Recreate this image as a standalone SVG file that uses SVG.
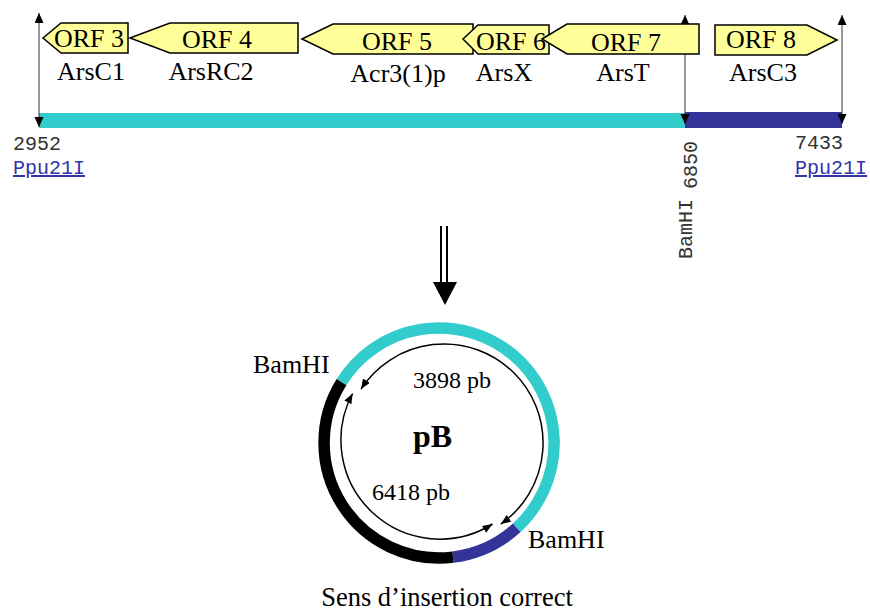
<svg xmlns="http://www.w3.org/2000/svg" width="870" height="612" viewBox="0 0 870 612">
<style>
.orf{fill:#FFFF99;stroke:#000;stroke-width:1.5;stroke-linejoin:miter}
.t{font-family:"Liberation Serif","Times New Roman",serif;fill:#000}
.lbl{font-size:26px;text-anchor:middle}
.m{font-family:"Liberation Mono","Courier New",monospace;font-size:20px;fill:#333}
.lnk{fill:#3333AA;text-decoration:underline}
.vl{stroke:#333;stroke-width:1;marker-start:url(#ah);marker-end:url(#ah)}
.arc{fill:none;stroke:#000;stroke-width:1.5;marker-start:url(#sa);marker-end:url(#sa)}
.ring{fill:none;stroke-width:11.5;stroke-linecap:butt}
</style>
<defs>
<marker id="ah" markerUnits="userSpaceOnUse" markerWidth="11" markerHeight="10" refX="10" refY="4.5" orient="auto-start-reverse" viewBox="0 0 11 10">
<path d="M0,0 L10,4.5 L0,9 Z" fill="#000"/>
</marker>
<marker id="sa" markerUnits="userSpaceOnUse" markerWidth="11" markerHeight="9" refX="10" refY="4" orient="auto-start-reverse" viewBox="0 0 11 9">
<path d="M0,0 L10,4 L0,8 Z" fill="#000"/>
</marker>
</defs>
<rect width="870" height="612" fill="#fff"/>

<g id="map">
<rect x="39" y="113" width="646" height="15" fill="#33CCCC"/>
<rect x="685" y="112" width="157" height="16" fill="#333399"/>
<line class="vl" x1="39" y1="127" x2="39" y2="13"/>
<line class="vl" x1="685" y1="124" x2="685" y2="15"/>
<line class="vl" x1="842" y1="124" x2="842" y2="15"/>
</g>

<g id="orf3"><polygon class="orf" points="43,38 61,23 128,23 128,53 61,53"/><text class="t lbl" x="89" y="47">ORF 3</text><text class="t lbl" x="91" y="80">ArsC1</text></g>
<g id="orf4"><polygon class="orf" points="130,38 170,23 298,23 298,53 170,53"/><text class="t lbl" x="217" y="48">ORF 4</text><text class="t lbl" x="211" y="80">ArsRC2</text></g>
<g id="orf5"><polygon class="orf" points="302,39 333,24 473,24 473,54 333,54"/><text class="t lbl" x="397" y="50">ORF 5</text><text class="t lbl" x="398" y="82">Acr3(1)p</text></g>
<g id="orf6"><polygon class="orf" points="463,39 478,25 549,25 549,54 478,54"/><text class="t lbl" x="511" y="50">ORF 6</text><text class="t lbl" x="504" y="81">ArsX</text></g>
<g id="orf7"><polygon class="orf" points="542,39 567,24 699,24 699,54 567,54"/><text class="t lbl" x="626" y="51">ORF 7</text><text class="t lbl" x="623" y="81">ArsT</text></g>
<g id="orf8"><polygon class="orf" points="715,25 807,25 837,40 807,55 715,55"/><text class="t lbl" x="761" y="48">ORF 8</text><text class="t lbl" x="763" y="81">ArsC3</text></g>

<g id="site-left"><text class="m" x="13" y="150">2952</text><text class="m lnk" x="13" y="174">Ppu21I</text></g>
<g id="site-right"><text class="m" x="795" y="149">7433</text><text class="m lnk" x="795" y="174">Ppu21I</text></g>
<g id="site-bamhi"><text class="m" transform="translate(697,189) rotate(-90)">6850</text><text class="m" transform="translate(692,259) rotate(-90)">BamHI</text></g>

<g id="connectors">
<line x1="441" y1="226" x2="441" y2="284" stroke="#000" stroke-width="2"/>
<line x1="447" y1="226" x2="447" y2="284" stroke="#000" stroke-width="2"/>
<polygon points="433,282 457,282 445,305" fill="#000"/>
</g>

<g id="plasmid">
<path class="ring" stroke="#33CCCC" d="M341.5,382.1 A115,115 0 1 1 516.7,527.8"/>
<path class="ring" stroke="#333399" d="M516.7,527.8 A115,115 0 0 1 453,557.1"/>
<path class="ring" stroke="#000" d="M453,557.1 A115,115 0 0 1 341.5,382.1"/>
<path class="arc" d="M361,389.1 A99,99 0 1 1 500.8,524.1"/>
<path class="arc" d="M352.6,393.5 A99,99 0 0 0 492.5,524"/>
<text class="t" x="253" y="373" font-size="26">BamHI</text>
<text class="t" x="413" y="388" font-size="24">3898 pb</text>
<text class="t" x="413" y="447" font-size="32" font-weight="bold">pB</text>
<text class="t" x="372" y="500" font-size="24">6418 pb</text>
<text class="t" x="528" y="548" font-size="26">BamHI</text>
</g>
<text class="t" x="447" y="606" font-size="26.5" text-anchor="middle">Sens d’insertion correct</text>
</svg>
